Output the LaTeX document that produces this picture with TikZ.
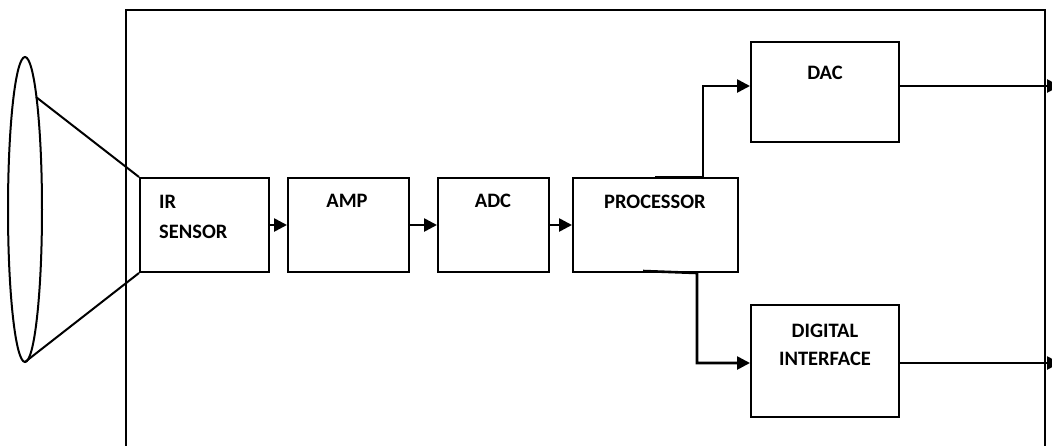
\documentclass[tikz,border=0pt]{standalone}
\usepackage{fontspec}
\setmainfont{Carlito}
\usetikzlibrary{arrows.meta,calc}
\tikzset{
  blk/.style={draw,line width=2pt,rectangle,inner sep=0pt,anchor=north west},
  lbl/.style={font=\bfseries\fontsize{20.5pt}{24pt}\selectfont,inner sep=0pt,anchor=base},
  conn/.style={line width=2.6pt,-{Triangle[length=13pt,width=13pt]}},
  thin/.style={line width=2pt}
}
\begin{document}
\begin{tikzpicture}[x=1pt,y=-1pt]
\useasboundingbox (0,0) rectangle (1052,445);
\clip (0,0) rectangle (1052,445);
\fill[white] (0,0) rectangle (1052,445);
% outer frame
\draw[thin] (126,460) -- (126,10) -- (1045,10) -- (1045,460);
% blocks
\node[blk,minimum width=129pt,minimum height=94pt] (ir) at (139,177) {};
\node[blk,minimum width=121pt,minimum height=94pt] (amp) at (287,177) {};
\node[blk,minimum width=111pt,minimum height=94pt] (adc) at (437,177) {};
\node[blk,minimum width=165pt,minimum height=94pt] (proc) at (572,177) {};
\node[blk,minimum width=148pt,minimum height=100pt] (dac) at (750,41) {};
\node[blk,minimum width=148pt,minimum height=112pt] (dig) at (750,304) {};
% labels
\node[lbl,anchor=base west] (t1) at (159,208) {IR};
\node[lbl,anchor=base west] (t2) at (159,238) {SENSOR};
\node[lbl] (t3) at (347,207) {AMP};
\node[lbl] (t4) at (493,207) {ADC};
\node[lbl] (t5) at (655,208) {PROCESSOR};
\node[lbl] (t6) at (825,79) {DAC};
\node[lbl] (t7) at (825,337) {DIGITAL};
\node[lbl] (t8) at (825,365) {INTERFACE};
% lens
\draw[thin] (25,209.5) ellipse [x radius=17, y radius=152.5];
\coordinate (lt) at (36,97);
\coordinate (lb) at (25,362);
\draw[thin] (lt) -- (ir.north west);
\draw[thin] (lb) -- (ir.south west);
% chain connectors
\draw[conn] (ir.east) -- (amp.west);
\draw[conn] (amp.east) -- (adc.west);
\draw[conn] (adc.east) -- (proc.west);
% processor to DAC
\coordinate (pu) at (703,86);
\coordinate (pus) at (655,177);
\draw[conn] (pus) -- (pu |- proc.north) -- (pu) -- (pu -| dac.west);
% processor to digital interface
\coordinate (pd) at (697,363);
\coordinate (pds) at (643,271);
\draw[conn] (pds) -- (pd |- proc.south) -- (pd) -- (pd -| dig.west);
% outputs
\coordinate (o1) at (1060,86);
\coordinate (o2) at (1060,363);
\draw[conn] (dac.east |- o1) -- (o1);
\draw[conn] (dig.east |- o2) -- (o2);
\end{tikzpicture}
\end{document}
